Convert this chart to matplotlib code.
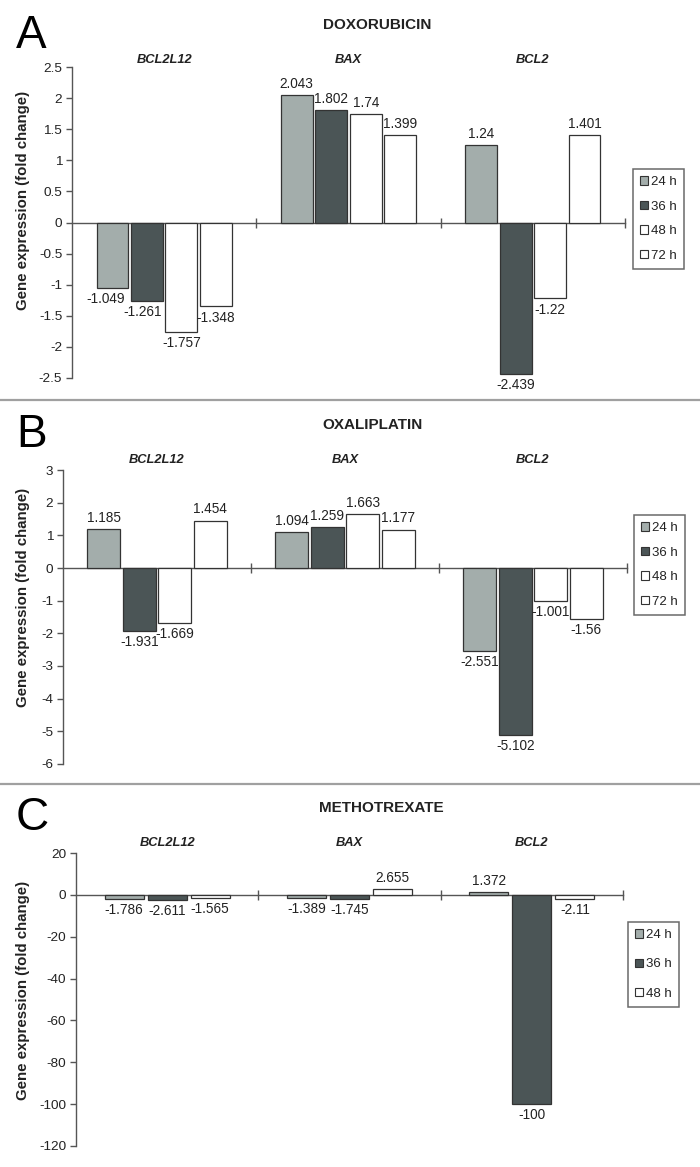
import matplotlib
matplotlib.use("Agg")
import matplotlib.pyplot as plt
from matplotlib.patches import Patch
from matplotlib.lines import Line2D
import numpy as np

plt.rcParams['font.family'] = ['Liberation Sans', 'DejaVu Sans']

# ---------------- data ----------------
genes = ['BCL2L12', 'BAX', 'BCL2']

dox_times = ['24 h', '36 h', '48 h', '72 h']
dox_24 = [-1.049, 2.043, 1.24]
dox_36 = [-1.261, 1.802, -2.439]
dox_48 = [-1.757, 1.74, -1.22]
dox_72 = [-1.348, 1.399, 1.401]

oxa_times = ['24 h', '36 h', '48 h', '72 h']
oxa_24 = [1.185, 1.094, -2.551]
oxa_36 = [-1.931, 1.259, -5.102]
oxa_48 = [-1.669, 1.663, -1.001]
oxa_72 = [1.454, 1.177, -1.56]

mtx_times = ['24 h', '36 h', '48 h']
mtx_24 = [-1.786, -1.389, 1.372]
mtx_36 = [-2.611, -1.745, -100]
mtx_48 = [-1.565, 2.655, -2.11]

dox_ticks = [2.5, 2, 1.5, 1, 0.5, 0, -0.5, -1, -1.5, -2, -2.5]
oxa_ticks = [3, 2, 1, 0, -1, -2, -3, -4, -5, -6]
mtx_ticks = [20, 0, -20, -40, -60, -80, -100, -120]

# ---------------- style ----------------
W, H = 700, 1167
DPI = 100
C24 = '#a3adab'
C36 = '#4b5556'
CW = '#ffffff'
EDGE = '#333333'
TXT = '#222222'
AXC = '#555555'

# small horizontal nudges (points) of a few value labels to avoid overlap
dox_nudge = {(0, 0): -5, (0, 1): -3}

fig = plt.figure(figsize=(W / DPI, H / DPI), dpi=DPI)
fig.patch.set_facecolor('white')


def px_rect(x0, x1, ytop, ybot):
    return [x0 / W, 1 - ybot / H, (x1 - x0) / W, (ybot - ytop) / H]


def panel(rect, series, times, colors, ticks, ylim, slot, width,
          letter, letter_y, title, title_x, title_y, gene_y, ylab_y,
          leg_box, leg_spacing, nudge=None):
    nudge = nudge or {}
    ax = fig.add_axes(px_rect(*rect))
    n = len(series)
    x = np.arange(len(genes))
    handles = []
    for i, (vals, col, lab) in enumerate(zip(series, colors, times)):
        off = (i - (n - 1) / 2) * slot
        bars = ax.bar(x + off, vals, width=width, color=col, edgecolor=EDGE,
                      linewidth=0.9, zorder=3)
        for j, (b, v) in enumerate(zip(bars, vals)):
            xc = b.get_x() + b.get_width() / 2
            dx = nudge.get((j, i), 0)
            if v >= 0:
                ax.annotate(f'{v:g}', (xc, v), xytext=(dx, 3),
                            textcoords='offset points', ha='center',
                            va='bottom', fontsize=9.8, color=TXT)
            else:
                ax.annotate(f'{v:g}', (xc, v), xytext=(dx, -3),
                            textcoords='offset points', ha='center',
                            va='top', fontsize=9.8, color=TXT)
        handles.append(Patch(facecolor=col, edgecolor=EDGE, linewidth=0.8,
                             label=lab))
    ax.set_xlim(-0.5, len(genes) - 0.5)
    ax.set_ylim(*ylim)
    ax.set_yticks(ticks)
    ax.set_yticklabels([f'{t:g}' for t in ticks], fontsize=9.7, color=TXT)
    ax.set_xticks(np.arange(len(genes)) + 0.5)
    ax.set_xticklabels([])
    for s in ['top', 'right']:
        ax.spines[s].set_visible(False)
    ax.spines['bottom'].set_position(('data', 0))
    ax.spines['bottom'].set_color(AXC)
    ax.spines['left'].set_color(AXC)
    ax.spines['bottom'].set_linewidth(1.0)
    ax.spines['left'].set_linewidth(1.0)
    ax.spines['bottom'].set_zorder(2)
    ax.tick_params(axis='x', direction='inout', length=7, width=1.0,
                   color=AXC)
    ax.tick_params(axis='y', direction='out', length=4, width=1.0,
                   color=AXC, pad=3)
    ax.set_facecolor('none')
    # gene labels
    for i, g in enumerate(genes):
        xf = ax.transData.transform((i, 0))[0]
        fig.text(xf / W, 1 - gene_y / H, g, ha='center', va='baseline',
                 fontsize=9.3, fontweight='bold', fontstyle='italic',
                 color=TXT)
    # letter + title
    fig.text(16 / W, 1 - letter_y / H, letter, fontsize=33, ha='left',
             va='baseline', color='black')
    fig.text(title_x / W, 1 - title_y / H, title, fontsize=11,
             fontweight='bold', ha='center', va='baseline', color=TXT)
    fig.text(23 / W, 1 - ylab_y / H, 'Gene expression (fold change)',
             rotation=90, ha='center', va='center', fontsize=10.8,
             fontweight='bold', color=TXT)
    # legend
    lx0, lx1, ly0, ly1 = leg_box
    leg = fig.legend(handles=handles, loc='upper left',
                     bbox_to_anchor=(lx0 / W, 1 - ly0 / H),
                     frameon=True, fancybox=False, fontsize=9.5,
                     handlelength=0.6, handleheight=0.6, handletextpad=0.2,
                     labelspacing=leg_spacing, borderpad=0.55,
                     borderaxespad=0)
    leg.get_frame().set_edgecolor('#444444')
    leg.get_frame().set_linewidth(1.1)
    for t in leg.get_texts():
        t.set_color(TXT)
    return ax


panel((72, 625, 67, 378), [dox_24, dox_36, dox_48, dox_72], dox_times,
      [C24, C36, CW, CW], dox_ticks, (-2.5, 2.5), 0.187, 0.173,
      'A', 48, 'DOXORUBICIN', 377, 29, 63, 200,
      (633, 682, 169, 271), 0.95, nudge=dox_nudge)

panel((63, 627, 470, 764), [oxa_24, oxa_36, oxa_48, oxa_72], oxa_times,
      [C24, C36, CW, CW], oxa_ticks, (-6, 3), 0.189, 0.175,
      'B', 447, 'OXALIPLATIN', 372, 429, 463, 597,
      (634, 682, 515, 622), 0.95)

panel((76, 623, 853, 1146), [mtx_24, mtx_36, mtx_48], mtx_times,
      [C24, C36, CW], mtx_ticks, (-120, 20), 0.236, 0.214,
      'C', 830, 'METHOTREXATE', 381, 812, 846, 990,
      (628, 673, 922, 1014), 1.3)

# separators
for y in (400, 784):
    fig.add_artist(Line2D([0, 1], [1 - y / H, 1 - y / H], color='#a0a0a0',
                          linewidth=1.6, transform=fig.transFigure))

fig.savefig('out.png', dpi=DPI)
